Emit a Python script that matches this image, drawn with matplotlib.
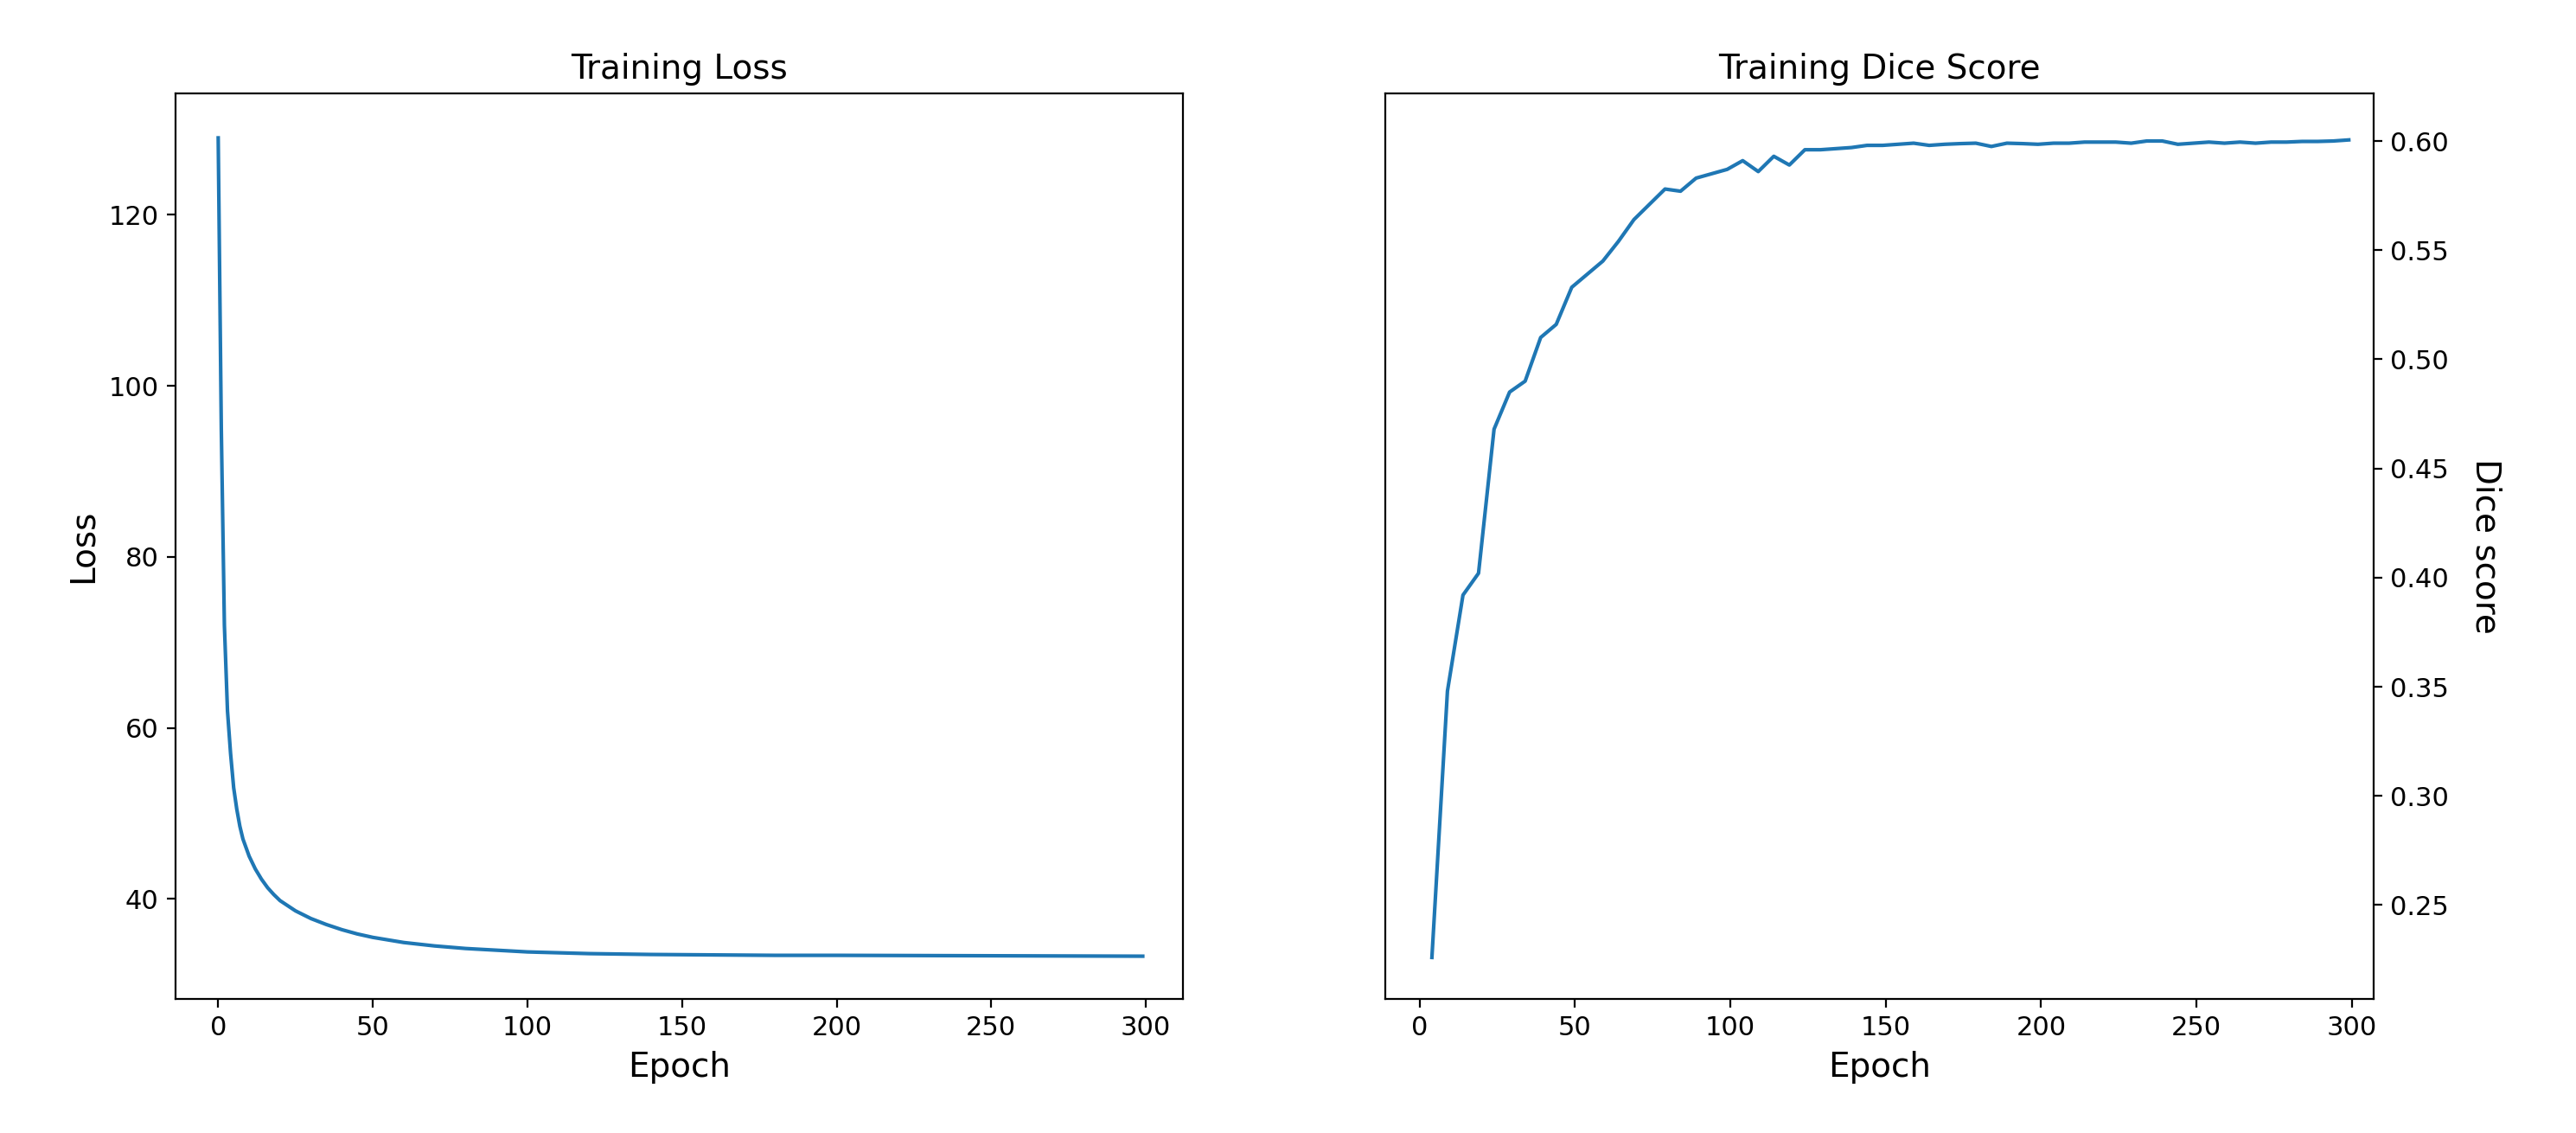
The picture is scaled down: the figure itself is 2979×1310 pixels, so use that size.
import matplotlib
matplotlib.use("Agg")
import matplotlib.pyplot as plt

# Training loss (epoch -> loss)
loss_epochs = [0, 1, 2, 3, 4, 5, 6, 7, 8, 9, 10, 12, 14, 16, 18, 20, 25, 30, 35, 40, 45, 50,
               60, 70, 80, 90, 100, 120, 140, 160, 180, 200, 250, 299]
loss_values = [129, 95, 72, 62, 57, 53, 50.5, 48.5, 47, 46, 45, 43.5, 42.3, 41.3, 40.5, 39.8,
               38.6, 37.7, 37.0, 36.4, 35.9, 35.5, 34.9, 34.5, 34.2, 34.0, 33.8, 33.6, 33.5,
               33.45, 33.4, 33.4, 33.35, 33.3]

# Dice score, logged every 5 epochs
dice_epochs = list(range(4, 300, 5))
dice_values = [0.226, 0.348, 0.392, 0.402, 0.468, 0.485, 0.490, 0.510, 0.516, 0.533,
               0.539, 0.545, 0.554, 0.564, 0.571, 0.578, 0.577, 0.583, 0.585, 0.587,
               0.591, 0.586, 0.593, 0.589, 0.596, 0.596, 0.5965, 0.597, 0.598, 0.598,
               0.5985, 0.599, 0.598, 0.5985, 0.5988, 0.599, 0.5975, 0.599, 0.5988, 0.5985,
               0.599, 0.599, 0.5995, 0.5995, 0.5995, 0.599, 0.600, 0.600, 0.5985, 0.599,
               0.5995, 0.599, 0.5995, 0.599, 0.5995, 0.5995, 0.5998, 0.5998, 0.600, 0.6005]

plt.rcParams.update({"font.family": "DejaVu Sans", "xtick.labelsize": 11, "ytick.labelsize": 11})
fig = plt.figure(figsize=(14.895, 6.55), dpi=200)
W, H = 2979, 1310
top, bot = 108, 1155
ax1 = fig.add_axes([203 / W, 1 - bot / H, (1368 - 203) / W, (bot - top) / H])
ax2 = fig.add_axes([1602 / W, 1 - bot / H, (2745 - 1602) / W, (bot - top) / H])

ax1.plot(loss_epochs, loss_values, color="#1f77b4", lw=1.5)
ax1.set_title("Training Loss", fontsize=14)
ax1.set_xlabel("Epoch", fontsize=14)
ax1.set_ylabel("Loss", fontsize=14)
ax1.set_xlim(-13.8, 312)
ax1.set_ylim(28.3, 134.2)
ax1.set_yticks([40, 60, 80, 100, 120])

ax2.plot(dice_epochs, dice_values, color="#1f77b4", lw=1.5)
ax2.set_title("Training Dice Score", fontsize=14)
ax2.set_xlabel("Epoch", fontsize=14)
ax2.yaxis.tick_right()
ax2.yaxis.set_label_position("right")
ax2.set_ylabel("Dice score", fontsize=14, rotation=270, labelpad=22)
ax2.set_xlim(-11, 307)
ax2.set_ylim(0.207, 0.6218)
ax2.set_yticks([0.25, 0.30, 0.35, 0.40, 0.45, 0.50, 0.55, 0.60])

fig.savefig("out.png", dpi=200, facecolor="white")
